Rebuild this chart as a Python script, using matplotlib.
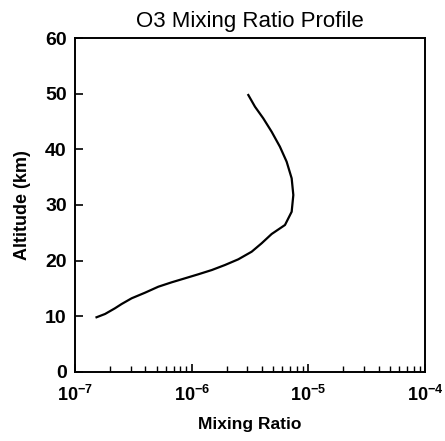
import numpy as np
import matplotlib
matplotlib.use('Agg')
import matplotlib.pyplot as plt
from matplotlib.ticker import FixedLocator, FixedFormatter, LogLocator, NullFormatter

# O3 profile
mixing_ratio = [1.53e-7, 1.81e-7, 2.20e-7, 2.51e-7, 3.06e-7, 3.98e-7, 5.18e-7, 6.74e-7,
                8.77e-7, 1.14e-6, 1.49e-6, 1.93e-6, 2.51e-6, 3.27e-6, 3.98e-6, 4.85e-6,
                6.31e-6, 7.20e-6, 7.44e-6, 7.20e-6, 6.52e-6, 5.71e-6, 4.85e-6, 4.11e-6,
                3.49e-6, 3.06e-6]
altitude = [9.83, 10.42, 11.44, 12.21, 13.24, 14.24, 15.32, 16.11,
            16.83, 17.55, 18.32, 19.22, 20.24, 21.61, 23.12, 24.79,
            26.41, 28.79, 31.79, 34.79, 37.78, 40.47, 43.16, 45.57,
            47.66, 49.76]

x_ticks = [1e-7, 1e-6, 1e-5, 1e-4]
x_tick_labels = [r'$\mathbf{10^{-7}}$', r'$\mathbf{10^{-6}}$', r'$\mathbf{10^{-5}}$', r'$\mathbf{10^{-4}}$']
y_ticks = [0, 10, 20, 30, 40, 50, 60]

plt.rcParams['font.family'] = ['Liberation Sans', 'DejaVu Sans']
plt.rcParams['mathtext.fontset'] = 'custom'
plt.rcParams['mathtext.bf'] = 'Liberation Sans:bold'
plt.rcParams['mathtext.rm'] = 'Liberation Sans'

fig = plt.figure(figsize=(4.45, 4.41), dpi=100)
ax = fig.add_axes([0.1685, 0.1565, 0.7865, 0.7573])

ax.plot(mixing_ratio, altitude, color='black', linewidth=1.6)

ax.set_xscale('log')
ax.set_xlim(1e-7, 1e-4)
ax.set_ylim(0, 60)
ax.xaxis.set_major_locator(FixedLocator(x_ticks))
ax.xaxis.set_major_formatter(FixedFormatter(x_tick_labels))
ax.xaxis.set_minor_locator(LogLocator(base=10, subs=np.arange(2, 10)))
ax.xaxis.set_minor_formatter(NullFormatter())
ax.set_yticks(y_ticks)

ax.tick_params(axis='both', which='major', direction='in', length=6, width=1.2,
               labelsize=14, pad=6)
ax.tick_params(axis='x', which='major', labelsize=13, pad=9)
ax.tick_params(axis='x', which='minor', direction='in', length=4, width=1.0)
for lab in ax.get_yticklabels():
    lab.set_fontweight('bold')

for s in ax.spines.values():
    s.set_linewidth(1.4)

ax.set_title('O3 Mixing Ratio Profile', fontsize=16, pad=8)
ax.set_xlabel('Mixing Ratio', fontsize=12.5, fontweight='bold', labelpad=9)
ax.set_ylabel('Altitude (km)', fontsize=13, fontweight='bold', labelpad=10)

fig.savefig('out.png', dpi=100)
